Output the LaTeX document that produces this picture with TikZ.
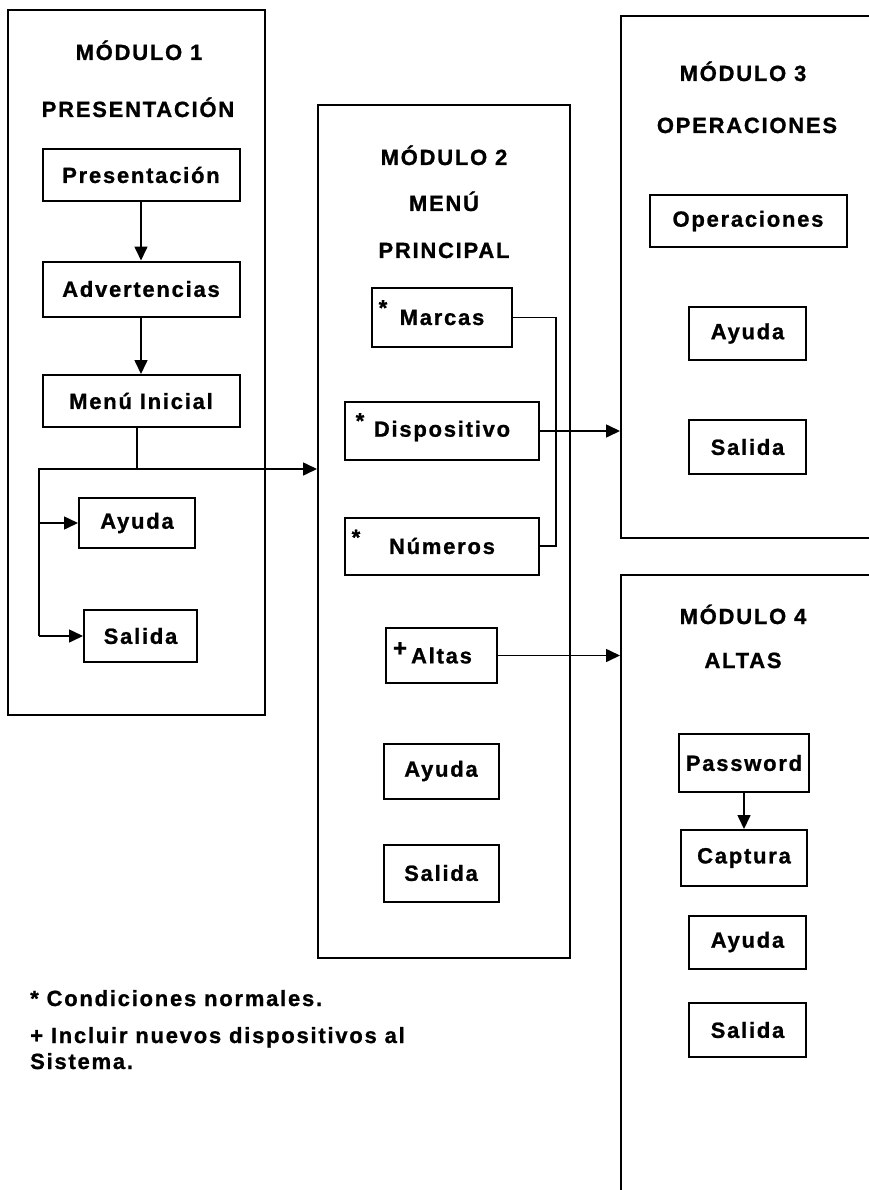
\documentclass[tikz,border=0pt]{standalone}
\usepackage{fontspec}
\setmainfont{Liberation Sans}[LetterSpace=8, BoldFeatures={FakeBold=1}]
\usetikzlibrary{arrows.meta}
\begin{document}
\begin{tikzpicture}[x=1pt,y=-1pt,
  every node/.style={font=\fontsize{22}{26}\selectfont\bfseries},
  frame/.style={draw, line width=2pt, inner sep=0pt},
  box/.style={draw, line width=2pt, inner sep=0pt},
  head/.style={inner sep=0pt, anchor=base},
  note/.style={inner sep=0pt, anchor=base west},
  sign/.style={inner sep=0pt, anchor=north},
  link/.style={line width=1.6pt},
  arr/.style={link, -{Triangle[length=14pt,width=13pt]}}
]
\useasboundingbox (0,0) rectangle (868,1190);

% ---------- module frames ----------
\node[frame, minimum width=257pt, minimum height=705pt] (m1) at (136.5,362.5) {};
\node[frame, minimum width=252pt, minimum height=853pt] (m2) at (444,531.5) {};
\node[frame, minimum width=269pt, minimum height=522pt] (m3) at (755.5,277) {};
\node[frame, minimum width=269pt, minimum height=640pt] (m4) at (755.5,895) {};

% ---------- module 1 ----------
\node[head] (h1a) at (139,60) {MÓDULO 1};
\node[head] (h1b) at (138,117) {PRESENTACIÓN};
\node[box, minimum width=197pt, minimum height=52pt] (pres) at (141,175) {Presentación};
\node[box, minimum width=197pt, minimum height=55pt] (adv) at (141,289) {Advertencias};
\node[box, minimum width=197pt, minimum height=52pt] (menu) at (141,401) {Menú Inicial};
\node[box, minimum width=116pt, minimum height=50pt] (ayu1) at (137,523) {Ayuda};
\node[box, minimum width=113pt, minimum height=52pt] (sal1) at (140.5,636) {Salida};

\draw[arr] (pres.south) -- (adv.north);
\draw[arr] (adv.south) -- (menu.north);
\coordinate (j1) at (137,469);
\coordinate (t1) at (39,469);
\draw[link] ([xshift=-4pt]menu.south) -- (j1) -- (t1) -- (t1 |- sal1.west);
\draw[arr] (j1) -- (m2.west |- j1);
\draw[arr] (t1 |- ayu1.west) -- (ayu1.west);
\draw[arr] (t1 |- sal1.west) -- (sal1.west);

% ---------- module 2 ----------
\node[head] (h2a) at (444,165) {MÓDULO 2};
\node[head] (h2b) at (444,211) {MENÚ};
\node[head] (h2c) at (444,258) {PRINCIPAL};
\node[box, minimum width=140pt, minimum height=59pt] (marc) at (442,317.5) {Marcas};
\node[box, minimum width=194pt, minimum height=58pt] (disp) at (442,431) {Dispositivo};
\node[box, minimum width=194pt, minimum height=57pt] (nums) at (442,546) {Números};
\node[box, minimum width=111pt, minimum height=55pt] (alta) at (441.5,655.5) {Altas};
\node[box, minimum width=115pt, minimum height=55pt] (ayu2) at (441,771) {Ayuda};
\node[box, minimum width=115pt, minimum height=57pt] (sal2) at (441,873) {Salida};

\node[sign] (s1) at ([shift={(12,13)}]marc.north west) {*};
\node[sign] (s2) at ([shift={(16,12)}]disp.north west) {*};
\node[sign] (s3) at ([shift={(12,13)}]nums.north west) {*};
\node[sign, font=\fontsize{24}{24}\selectfont\bfseries] (s4) at ([shift={(15,15)}]alta.north west) {+};

\coordinate (v1) at (556,0);
\draw[link] (marc.east) -| (v1 |- nums.east) -- (nums.east);
\draw[arr] (disp.east) -- (m3.west |- disp.east);
\draw[arr] (alta.east) -- (m4.west |- alta.east);

% ---------- module 3 ----------
\node[head] (h3a) at (743,81) {MÓDULO 3};
\node[head] (h3b) at (747,133) {OPERACIONES};
\node[box, minimum width=197pt, minimum height=51pt] (oper) at (748,221) {Operaciones};
\node[box, minimum width=117pt, minimum height=53pt] (ayu3) at (747.5,333.5) {Ayuda};
\node[box, minimum width=117pt, minimum height=54pt] (sal3) at (747.5,447) {Salida};

% ---------- module 4 ----------
\node[head] (h4a) at (743,624) {MÓDULO 4};
\node[head] (h4b) at (743,668) {ALTAS};
\node[box, minimum width=130pt, minimum height=58pt] (pass) at (744,763) {Password};
\node[box, minimum width=126pt, minimum height=56pt] (capt) at (744,858) {Captura};
\node[box, minimum width=117pt, minimum height=53pt] (ayu4) at (747.5,942) {Ayuda};
\node[box, minimum width=117pt, minimum height=54pt] (sal4) at (747.5,1030) {Salida};

\draw[arr] (pass.south) -- (capt.north);

% ---------- footnotes ----------
\node[note] (n1) at (30,1006) {* Condiciones normales.};
\node[note] (n2) at (30,1043) {+ Incluir nuevos dispositivos al};
\node[note] (n3) at (30,1069) {Sistema.};
\end{tikzpicture}
\end{document}
